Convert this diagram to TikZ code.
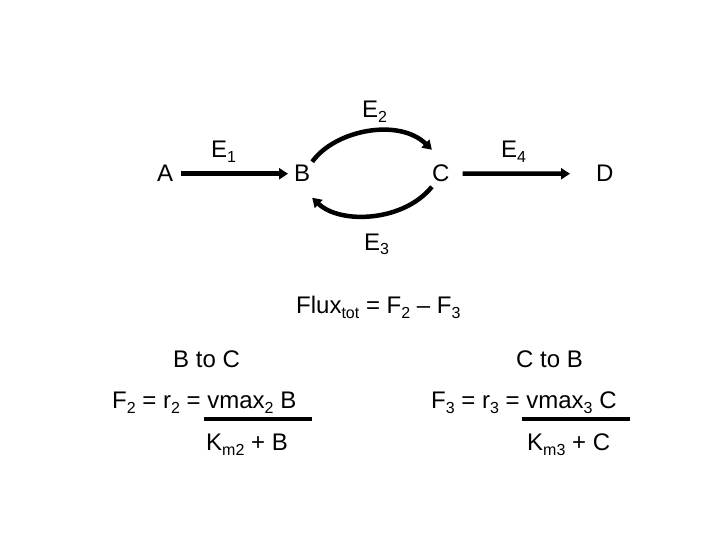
\documentclass[tikz,border=0pt]{standalone}
\usepackage{fontspec}
\setmainfont{Liberation Sans}
\usetikzlibrary{arrows.meta}
\newcommand\mysub[1]{\raisebox{-5pt}{\fontsize{16}{16}\selectfont #1}}
\tikzset{
  lbl/.style={inner sep=0pt, anchor=base west, font=\fontsize{24}{28}\selectfont},
  arr/.style={line width=4.5pt, -{Triangle[length=9pt,width=11pt]}},
  fracline/.style={line width=4pt}
}
\begin{document}
\begin{tikzpicture}[x=1pt,y=-1pt]
\useasboundingbox[fill=white] (0,0) rectangle (720,540);
% species
\node[lbl] (A) at (157,182) {A};
\node[lbl] (B) at (294,182) {B};
\node[lbl] (C) at (432,182) {C};
\node[lbl] (D) at (596,182) {D};
% enzyme labels
\node[lbl] (E1) at (211,158) {E\mysub{1}};
\node[lbl] (E2) at (362,118) {E\mysub{2}};
\node[lbl] (E3) at (364,250) {E\mysub{3}};
\node[lbl] (E4) at (501,158) {E\mysub{4}};
% connectors
\draw[arr, shorten <=8pt, shorten >=6pt] (A.east) -- (B.west);
\draw[arr, shorten <=13pt, shorten >=26pt] (C.east) -- (D.west);
\coordinate (b1) at ([xshift=10pt,yshift=12pt]B.center);
\coordinate (c1) at ([xshift=-9pt,yshift=24pt]C.center);
\coordinate (c2) at ([xshift=-9pt,yshift=-13pt]C.center);
\coordinate (b2) at ([xshift=10pt,yshift=-24pt]B.center);
\draw[arr] (b1) .. controls +(23,-32) and +(-33,-32) .. (c1);
\draw[arr] (c2) .. controls +(-28,35) and +(28,27) .. (b2);
% flux
\node[lbl] (flux) at (296,313) {Flux\mysub{tot} = F\mysub{2} -- F\mysub{3}};
\node[lbl] (btoc) at (173,367) {B to C};
\node[lbl] (ctob) at (516,367) {C to B};
\node[lbl] (f2) at (112,408) {F\mysub{2} = r\mysub{2} = vmax\mysub{2} B};
\node[lbl] (f3) at (431,408) {F\mysub{3} = r\mysub{3} = vmax\mysub{3} C};
\node[lbl] (k2) at (206,450) {K\mysub{m2} + B};
\node[lbl] (k3) at (527,450) {K\mysub{m3} + C};
\draw[fracline] (204,419) -- (312,419);
\draw[fracline] (522,419) -- (630,419);
\end{tikzpicture}
\end{document}
